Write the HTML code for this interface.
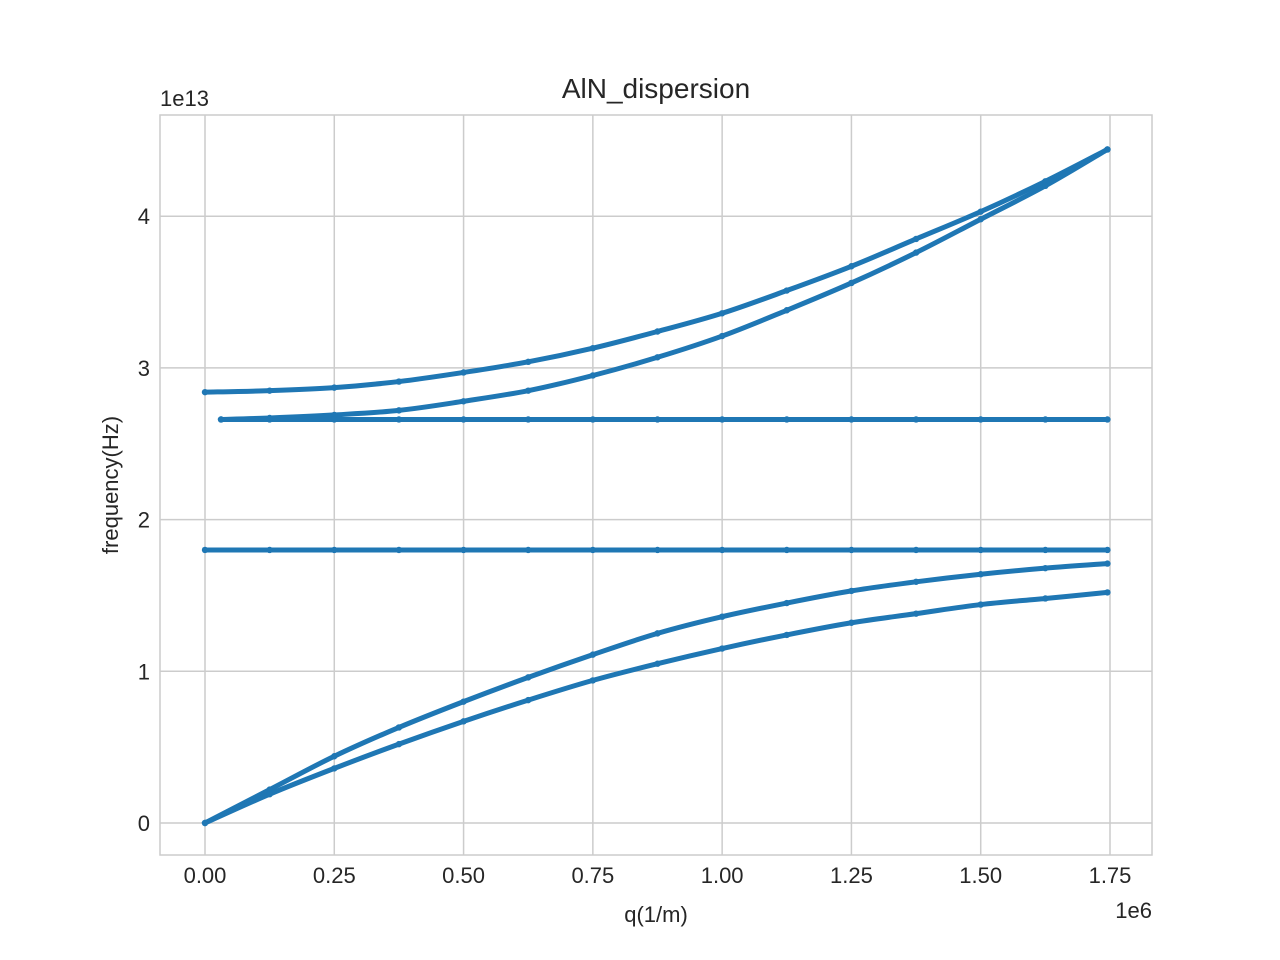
<!DOCTYPE html>
<html><head><meta charset="utf-8"><style>
body{margin:0;background:#fff}
svg{display:block}
text{font-family:"Liberation Sans",Arial,sans-serif;fill:#262626}
</style></head><body>
<svg id="chart" width="1280" height="960">
<rect x="0" y="0" width="1280" height="960" fill="#fff"/>
<g id="grid"></g>
<g id="series"></g>
<rect x="160" y="115" width="992" height="740" fill="none" stroke="#cccccc" stroke-width="1.5"/>
<g id="ticks"></g>
<text x="656" y="98" font-size="28" text-anchor="middle">AlN_dispersion</text>
<text x="656" y="922" font-size="22" text-anchor="middle">q(1/m)</text>
<text x="118" y="485" font-size="22" text-anchor="middle" transform="rotate(-90 118 485)">frequency(Hz)</text>
<text x="160" y="106" font-size="22">1e13</text>
<text x="1152" y="918" font-size="22" text-anchor="end">1e6</text>
</svg>
<script>
const xTicks=[0,0.25,0.5,0.75,1.0,1.25,1.5,1.75];
const xTickLabels=["0.00","0.25","0.50","0.75","1.00","1.25","1.50","1.75"];
const yTicks=[0,1,2,3,4];
const yTickLabels=["0","1","2","3","4"];
const q=[0,0.125,0.25,0.375,0.5,0.625,0.75,0.875,1.0,1.125,1.25,1.375,1.5,1.625,1.745];
const qShift=[0.031,0.125,0.25,0.375,0.5,0.625,0.75,0.875,1.0,1.125,1.25,1.375,1.5,1.625,1.745];
const optical1=[2.84,2.85,2.87,2.91,2.97,3.04,3.13,3.24,3.36,3.51,3.67,3.85,4.03,4.23,4.44];
const optical2=[2.66,2.67,2.69,2.72,2.78,2.85,2.95,3.07,3.21,3.38,3.56,3.76,3.98,4.20,4.44];
const flatHigh=[2.66,2.66,2.66,2.66,2.66,2.66,2.66,2.66,2.66,2.66,2.66,2.66,2.66,2.66,2.66];
const flatLow=[1.80,1.80,1.80,1.80,1.80,1.80,1.80,1.80,1.80,1.80,1.80,1.80,1.80,1.80,1.80];
const acoustic1=[0,0.22,0.44,0.63,0.80,0.96,1.11,1.25,1.36,1.45,1.53,1.59,1.64,1.68,1.71];
const acoustic2=[0,0.19,0.36,0.52,0.67,0.81,0.94,1.05,1.15,1.24,1.32,1.38,1.44,1.48,1.52];
const X=v=>205+v*(1110-205)/1.75;
const Y=v=>823-v*151.7;
const NS="http://www.w3.org/2000/svg";
const grid=document.getElementById('grid'),ticks=document.getElementById('ticks'),ser=document.getElementById('series');
function mk(tag,attrs,parent){const e=document.createElementNS(NS,tag);for(const k in attrs)e.setAttribute(k,attrs[k]);parent.appendChild(e);return e;}
xTicks.forEach((t,i)=>{
 const l=mk('line',{x1:X(t),x2:X(t),y1:115,y2:855,stroke:'#cccccc','stroke-width':1.5},grid);
 
 
 const tx=mk('text',{x:X(t),y:883,'font-size':22,'text-anchor':'middle'},ticks);
 tx.textContent=xTickLabels[i];
 
 
});
yTicks.forEach((t,i)=>{
 const l=mk('line',{x1:160,x2:1152,y1:Y(t),y2:Y(t),stroke:'#cccccc','stroke-width':1.5},grid);
 
 
 const tx=mk('text',{x:150,y:Y(t)+8,'font-size':22,'text-anchor':'end'},ticks);
 tx.textContent=yTickLabels[i];
 
 
});
function smooth(xs,ys){
 const p=xs.map((x,i)=>[X(x),Y(ys[i])]);
 let d='M'+p[0][0]+','+p[0][1];
 for(let i=0;i<p.length-1;i++){
  const p0=p[i-1]||p[i],p1=p[i],p2=p[i+1],p3=p[i+2]||p2;
  const c1=[p1[0]+(p2[0]-p0[0])/6,p1[1]+(p2[1]-p0[1])/6];
  const c2=[p2[0]-(p3[0]-p1[0])/6,p2[1]-(p3[1]-p1[1])/6];
  d+=`C${c1[0]},${c1[1]} ${c2[0]},${c2[1]} ${p2[0]},${p2[1]}`;
 }
 return d;
}
[[q,optical1,'branch-optical-1'],[qShift,optical2,'branch-optical-2'],[qShift,flatHigh,'branch-flat-high'],[q,flatLow,'branch-flat-low'],[q,acoustic1,'branch-acoustic-1'],[q,acoustic2,'branch-acoustic-2']].forEach(([xs,ys,name])=>{
 const p=mk('path',{d:smooth(xs,ys),fill:'none',stroke:'#1f77b4','stroke-width':5,'stroke-linecap':'round'},ser);
 
 
 xs.forEach((x,i)=>{
  const c=mk('circle',{cx:X(x),cy:Y(ys[i]),r:3.2,fill:'#1f77b4'},ser);
  
  
 });
});
</script>
</body></html>
